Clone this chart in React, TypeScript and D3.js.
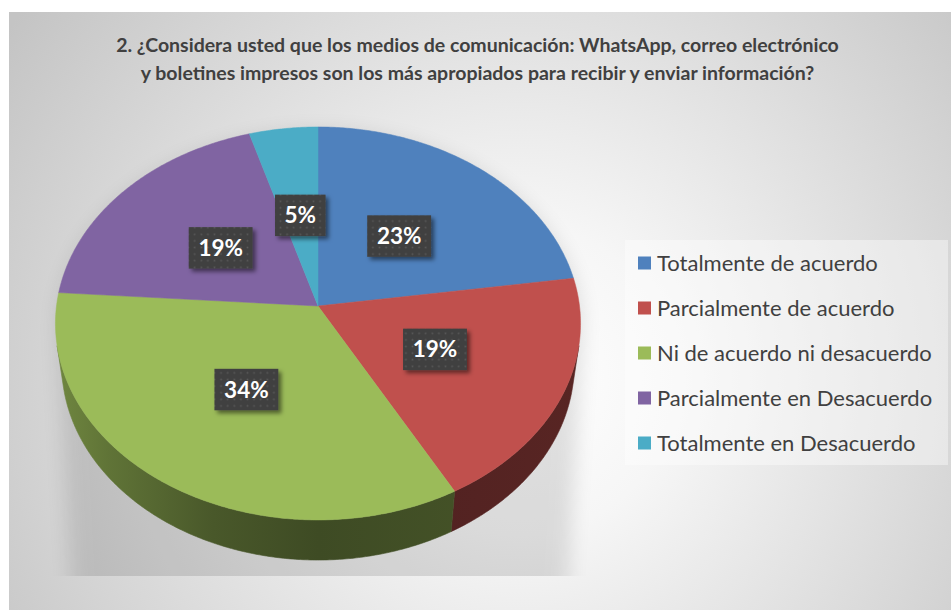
import React from "react";
import * as d3 from "d3";

const categories = [
  "Totalmente de acuerdo",
  "Parcialmente de acuerdo",
  "Ni de acuerdo ni desacuerdo",
  "Parcialmente en Desacuerdo",
  "Totalmente en Desacuerdo",
];
const values = [22.7, 19.3, 34.1, 19.3, 4.6];
const colors = ["#4f81bd", "#c0504d", "#9bbb59", "#8064a2", "#4bacc6"];
const titleLines = [
  "2. ¿Considera usted que los medios de comunicación: WhatsApp, correo electrónico",
  "y boletines impresos son los más apropiados para recibir y enviar información?",
];

const W = 951;
const H = 610;
const CX = 318;
const CY = 306;
const DIST = 7.5;
const PHI = (48.2 * Math.PI) / 180;
const FOC = 261.5 * DIST;
const THICK = 0.245;
const FONT = "Lato, 'Open Sans', sans-serif";

function proj(X: number, Y: number, Z: number): [number, number] {
  const cp = Math.cos(PHI);
  const sp = Math.sin(PHI);
  const dep = DIST - Y * cp - Z * sp;
  return [CX + (FOC * X) / dep, CY + (FOC * (Y * sp - Z * cp)) / dep];
}
function rim(theta: number, rho: number, z: number): [number, number] {
  return proj(rho * Math.sin(theta), -rho * Math.cos(theta), z);
}
function samples(a0: number, a1: number): number[] {
  const n = Math.max(2, Math.ceil(Math.abs(a1 - a0) / (Math.PI / 360)));
  return d3.range(n + 1).map((i) => a0 + ((a1 - a0) * i) / n);
}

export default function App() {
  const arcs = d3.pie<number>().sort(null).startAngle(0).endAngle(2 * Math.PI)(values);
  const line = d3.line<[number, number]>();

  const visLo = Math.acos(-1 / (DIST * Math.cos(PHI)));
  const visHi = 2 * Math.PI - visLo;

  const tops = arcs.map((a, i) => {
    const pts: [number, number][] = [[CX, CY], ...samples(a.startAngle, a.endAngle).map((t) => rim(t, 1, 0))];
    return { d: line(pts) + "Z", color: colors[i] };
  });

  const sides = arcs
    .map((a, i) => {
      const s = Math.max(a.startAngle, visLo);
      const e = Math.min(a.endAngle, visHi);
      if (e <= s) return null;
      const ts = samples(s, e);
      const pts: [number, number][] = [
        ...ts.map((t) => rim(t, 1, 0)),
        ...ts.slice().reverse().map((t) => rim(t, 1, -THICK)),
      ];
      return { d: line(pts) + "Z", i };
    })
    .filter(Boolean) as { d: string; i: number }[];

  // shadow hull
  const shadowPts: [number, number][] = [];
  d3.range(0, 360, 3).forEach((deg) => {
    const t = (deg * Math.PI) / 180;
    const p = rim(t, 1, 0);
    const q = rim(t, 1, -THICK);
    shadowPts.push([p[0] + 2, p[1] + 4], [q[0] + 2, q[1] + 12], [q[0] * 0.96 + 14, q[1] + 260]);
  });
  const hull = d3.polygonHull(shadowPts) as [number, number][];

  const shade = (c: string, f: number) => {
    const r = d3.rgb(c);
    return d3.rgb(r.r * f, r.g * f, r.b * f).formatHex();
  };
  const leftX = CX - 263;
  const rightX = CX + 263;
  const shadeStops = [
    [0, 0.72],
    [0.1, 0.62],
    [0.3, 0.47],
    [0.5, 0.4],
    [0.8, 0.44],
    [1, 0.46],
  ];

  const labels = arcs.map((a, i) => {
    const mid = (a.startAngle + a.endAngle) / 2;
    const [x, y] = rim(mid, 0.49, 0);
    const txt = Math.round(values[i]) + "%";
    const w = 24 + 13.3 * txt.length;
    return { x, y, txt, w, h: 41.5 };
  });

  const legendRows = [263, 308, 353, 398, 443];

  return (
    <svg
      width={W}
      height={H}
      style={{ position: "absolute", left: 0, top: 0, display: "block" }}
      xmlns="http://www.w3.org/2000/svg"
    >
      <defs>
        <radialGradient id="bg" cx={520} cy={380} r={620} gradientUnits="userSpaceOnUse">
          <stop offset="0" stopColor="#ffffff" />
          <stop offset="0.25" stopColor="#f6f6f6" />
          <stop offset="1" stopColor="#c4c4c4" />
        </radialGradient>
        {colors.map((c, i) => (
          <linearGradient key={i} id={"side" + i} x1={leftX} x2={rightX} y1={0} y2={0} gradientUnits="userSpaceOnUse">
            {shadeStops.map(([o, f], j) => (
              <stop key={j} offset={o} stopColor={shade(c, f)} />
            ))}
          </linearGradient>
        ))}
        <pattern id="dots" width={6.6} height={6.6} patternUnits="userSpaceOnUse">
          <rect width={6.6} height={6.6} fill="#404040" />
          <rect x={2.5} y={2.5} width={1.6} height={1.6} fill="#5a5a5a" />
        </pattern>
        <filter id="blur" x="-20%" y="-20%" width="140%" height="140%">
          <feGaussianBlur stdDeviation={10} />
        </filter>
        <filter id="lblShadow" x="-30%" y="-30%" width="160%" height="160%">
          <feDropShadow dx={3} dy={3} stdDeviation={2.2} floodColor="#000" floodOpacity={0.5} />
        </filter>
        <clipPath id="plotClip">
          <rect x={38} y={12} width={600} height={564} />
        </clipPath>
      </defs>

      <rect x={9} y={12} width={W - 9} height={H - 12} fill="url(#bg)" />

      {titleLines.map((t, i) => (
        <text
          key={i}
          x={477.5}
          y={52 + i * 28}
          textAnchor="middle"
          fontFamily={FONT}
          fontWeight="bold"
          fontSize={19.5}
          fill="#404040"
        >
          {t}
        </text>
      ))}

      <g clipPath="url(#plotClip)">
        <path d={line(hull) + "Z"} fill="#000" opacity={0.11} filter="url(#blur)" />
      </g>

      {sides.map((s, k) => (
        <path key={k} d={s.d} fill={`url(#side${s.i})`} stroke={`url(#side${s.i})`} strokeWidth={0.6} />
      ))}
      {tops.map((t, i) => (
        <path key={i} d={t.d} fill={t.color} stroke={t.color} strokeWidth={0.5} strokeLinejoin="round" />
      ))}

      {labels.map((l, i) => (
        <g key={i}>
          <rect
            x={l.x - l.w / 2}
            y={l.y - l.h / 2}
            width={l.w}
            height={l.h}
            fill="url(#dots)"
            filter="url(#lblShadow)"
          />
          <text
            x={l.x}
            y={l.y + 8}
            textAnchor="middle"
            fontFamily={FONT}
            fontWeight="bold"
            fontSize={22.5}
            fill="#ffffff"
          >
            {l.txt}
          </text>
        </g>
      ))}

      <rect x={625} y={240} width={323} height={225} fill="#ffffff" opacity={0.4} />
      {categories.map((c, i) => (
        <g key={i}>
          <rect x={638} y={legendRows[i] - 6.5} width={13} height={13} fill={colors[i]} />
          <text x={657} y={legendRows[i] + 7.5} fontFamily={FONT} fontSize={22} fill="#404040">
            {c}
          </text>
        </g>
      ))}
    </svg>
  );
}
